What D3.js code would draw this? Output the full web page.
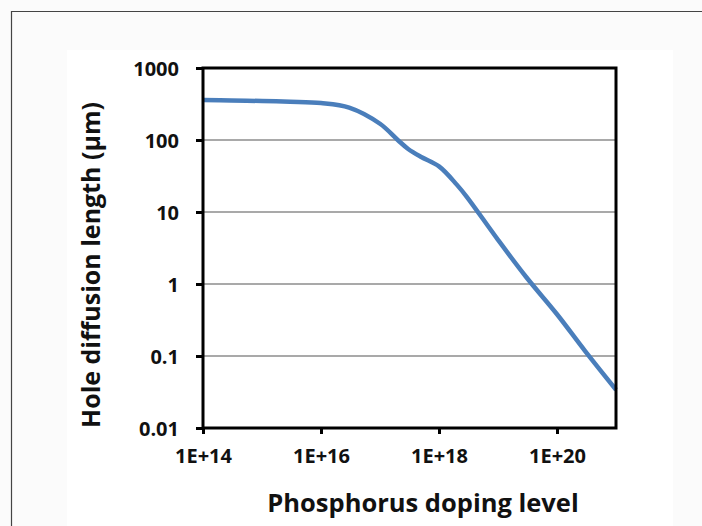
<!DOCTYPE html>
<html>
<head>
<meta charset="utf-8">
<script src="https://cdn.jsdelivr.net/npm/d3@7"></script>
<style>
  body { margin: 0; background: #fff; }
  svg { display: block; }
  .tick text { font-family: "Open Sans", sans-serif; font-weight: 700; font-size: 20px; fill: #111; }
  .title { font-family: "Open Sans", sans-serif; font-weight: 700; fill: #111; }
</style>
</head>
<body>
<svg id="chart" width="702" height="526"></svg>
<script>
// data
var dopingLevels = [1e14, 3e14, 1e15, 3e15, 1e16, 3e16, 1e17, 2e17, 3e17, 5e17, 1e18, 2e18, 3e18, 1e19, 3e19, 1e20, 3e20, 1e21];
var diffusionLengths = [360, 354, 348, 340, 326, 282, 168, 100, 75, 58, 43, 24, 16, 4.1, 1.25, 0.38, 0.117, 0.034];

var xTickValues = [1e14, 1e16, 1e18, 1e20];
var xTickLabels = ['1E+14', '1E+16', '1E+18', '1E+20'];
var yTickValues = [0.01, 0.1, 1, 10, 100, 1000];
var yTickLabels = ['0.01', '0.1', '1', '10', '100', '1000'];

(function() {
  var svg = d3.select('#chart'),
      left = 203, right = 616, plotTop = 68, bottom = 428;

  // page frame
  svg.append('rect').attr('x', 0).attr('y', 0).attr('width', 702).attr('height', 526).attr('fill', '#fbfbfb');
  svg.append('rect').attr('x', 67).attr('y', 50).attr('width', 606).attr('height', 476).attr('fill', '#fff');
  svg.append('path').attr('d', 'M11.5,526V11.5H702').attr('fill', 'none').attr('stroke', '#444').attr('stroke-width', 1.2);

  var x = d3.scaleLog().domain([1e14, 1e21]).range([left, right]);
  var y = d3.scaleLog().domain([0.01, 1000]).range([bottom, plotTop]);

  // gridlines
  svg.append('g')
    .selectAll('line')
    .data(yTickValues.slice(1, -1))
    .enter().append('line')
      .attr('x1', left).attr('x2', right)
      .attr('y1', function(d) { return y(d); })
      .attr('y2', function(d) { return y(d); })
      .attr('stroke', '#8c8c8c')
      .attr('stroke-width', 1.5);

  // curve
  var line = d3.line()
    .x(function(d, i) { return x(dopingLevels[i]); })
    .y(function(d) { return y(d); })
    .curve(d3.curveCatmullRom.alpha(0.5));

  svg.append('path')
    .datum(diffusionLengths)
    .attr('d', line)
    .attr('fill', 'none')
    .attr('stroke', '#4a7ebb')
    .attr('stroke-width', 4.5)
    .attr('stroke-linejoin', 'round');

  // plot box
  svg.append('rect')
    .attr('x', left).attr('y', plotTop)
    .attr('width', right - left).attr('height', bottom - plotTop)
    .attr('fill', 'none').attr('stroke', '#000').attr('stroke-width', 3);

  var yAxis = svg.append('g')
    .attr('transform', 'translate(' + left + ',0)')
    .call(d3.axisLeft(y)
      .tickValues(yTickValues)
      .tickFormat(function(d, i) { return yTickLabels[i]; })
      .tickSize(7)
      .tickPadding(17)
      .tickSizeOuter(0));

  var xAxis = svg.append('g')
    .attr('transform', 'translate(0,' + bottom + ')')
    .call(d3.axisBottom(x)
      .tickValues(xTickValues)
      .tickFormat(function(d, i) { return xTickLabels[i]; })
      .tickSize(6)
      .tickPadding(15)
      .tickSizeOuter(0));

  svg.selectAll('.domain').remove();
  svg.selectAll('.tick line').attr('stroke', '#000').attr('stroke-width', 3);
  yAxis.selectAll('.tick text').attr('dy', '0.36em');

  svg.append('text')
    .attr('class', 'title')
    .attr('x', 423).attr('y', 512)
    .attr('text-anchor', 'middle')
    .attr('font-size', 25.5)
    .text('Phosphorus doping level');

  svg.append('text')
    .attr('class', 'title')
    .attr('transform', 'translate(100,265) rotate(-90)')
    .attr('text-anchor', 'middle')
    .attr('font-size', 25)
    .text('Hole diffusion length (\u00b5m)');
})();
</script>
</body>
</html>
